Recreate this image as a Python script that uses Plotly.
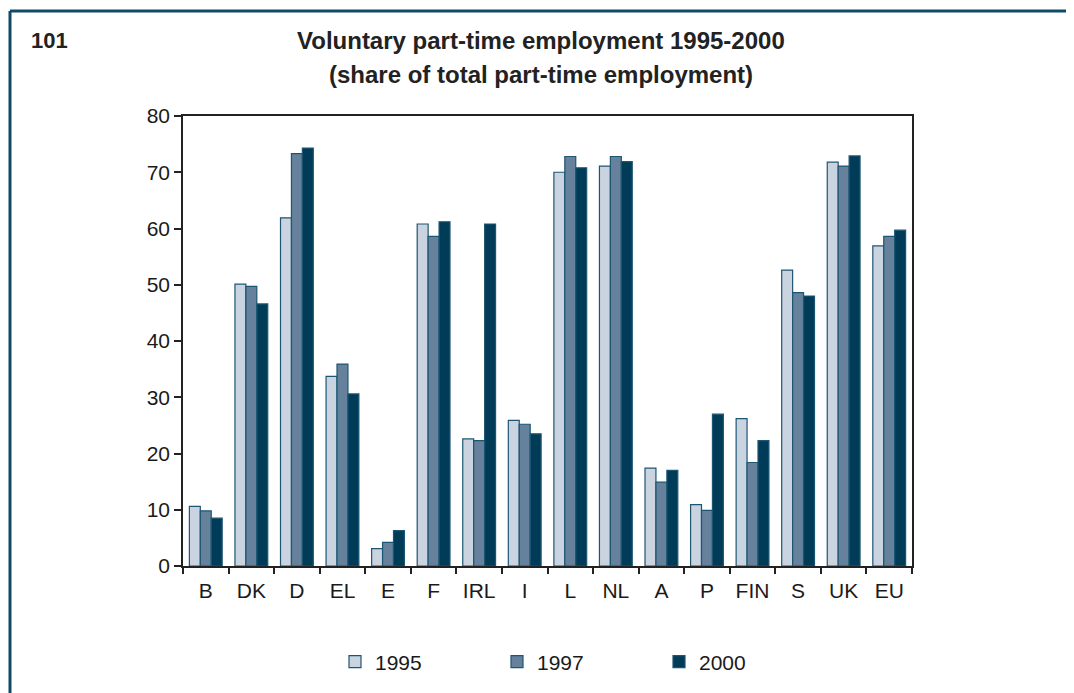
import plotly.graph_objects as go

categories = ["B", "DK", "D", "EL", "E", "F", "IRL", "I", "L", "NL", "A", "P", "FIN", "S", "UK", "EU"]
v1995 = [10.6, 50.1, 61.9, 33.7, 3.1, 60.8, 22.6, 25.9, 70.0, 71.1, 17.4, 10.9, 26.2, 52.6, 71.8, 56.9]
v1997 = [9.8, 49.7, 73.3, 35.9, 4.2, 58.6, 22.3, 25.2, 72.8, 72.8, 14.9, 9.9, 18.4, 48.6, 71.1, 58.6]
v2000 = [8.5, 46.6, 74.3, 30.6, 6.3, 61.2, 60.8, 23.5, 70.8, 71.9, 17.0, 27.0, 22.3, 48.0, 72.9, 59.7]
series_names = ["1995", "1997", "2000"]
colors = ["#c9d4e0", "#65819c", "#003c57"]
ytick_vals = [0, 10, 20, 30, 40, 50, 60, 70, 80]

OFF = 8  # default page body margin
W, H = 1074 - OFF, 693 - OFF
ML, MT = 183 - OFF, 116 - OFF
MR = W - (912 - OFF)
MB = H - (566 - OFF)
PW, PH = W - ML - MR, H - MT - MB
FONT = "Liberation Sans, Arial, sans-serif"


def px_x(p):
    return (p - OFF - ML) / PW


def px_y(p):
    return 1 - (p - OFF - MT) / PH


fig = go.Figure()
for name, vals, col in zip(series_names, [v1995, v1997, v2000], colors):
    fig.add_trace(go.Bar(
        x=categories, y=vals, name=name,
        marker=dict(color=col, line=dict(color="#1d5673", width=1.2)),
    ))

frame_col = "#0f4a66"
shapes = [
    dict(type="line", xref="paper", yref="paper", x0=px_x(10), x1=px_x(1080),
         y0=px_y(11), y1=px_y(11), line=dict(color=frame_col, width=3)),
    dict(type="line", xref="paper", yref="paper", x0=px_x(10), x1=px_x(10),
         y0=px_y(11), y1=px_y(700), line=dict(color=frame_col, width=3)),
]

annotations = [
    dict(text="<b>101</b>", xref="paper", yref="paper", x=px_x(29), y=px_y(40),
         xanchor="left", yanchor="middle", showarrow=False,
         font=dict(size=22, color="#222222", family=FONT)),
    dict(text="<b>Voluntary part-time employment 1995-2000</b>",
         xref="paper", yref="paper", x=px_x(541), y=px_y(40),
         xanchor="center", yanchor="middle", showarrow=False,
         font=dict(size=24, color="#222222", family=FONT)),
    dict(text="<b>(share of total part-time employment)</b>",
         xref="paper", yref="paper", x=px_x(541), y=px_y(75),
         xanchor="center", yanchor="middle", showarrow=False,
         font=dict(size=24, color="#222222", family=FONT)),
]

fig.update_layout(
    width=W, height=H,
    margin=dict(l=ML, r=MR, t=MT, b=MB, autoexpand=False),
    paper_bgcolor="white", plot_bgcolor="white",
    barmode="group", bargap=0.28, bargroupgap=0,
    font=dict(family=FONT, size=21, color="#1a1a1a"),
    showlegend=True,
    legend=dict(orientation="h", x=px_x(335), y=px_y(662), xanchor="left", yanchor="middle",
                entrywidth=117, entrywidthmode="pixels", itemwidth=30,
                font=dict(size=21, family=FONT, color="#1a1a1a"), bgcolor="rgba(0,0,0,0)"),
    shapes=shapes,
    annotations=annotations,
    xaxis=dict(showline=True, linecolor="#222222", linewidth=1.5, mirror=True,
               ticks="outside", tickson="boundaries", ticklen=6, tickcolor="#222222",
               tickwidth=1.5, showgrid=False, tickfont=dict(size=21), ticklabelstandoff=5),
    yaxis=dict(range=[0, 80], tickvals=ytick_vals, showline=True, linecolor="#222222",
               linewidth=1.5, mirror=True, ticks="outside", ticklen=7, tickcolor="#222222",
               tickwidth=1.5, showgrid=False, zeroline=False, tickfont=dict(size=21)),
)

fig.write_html("out.html")
